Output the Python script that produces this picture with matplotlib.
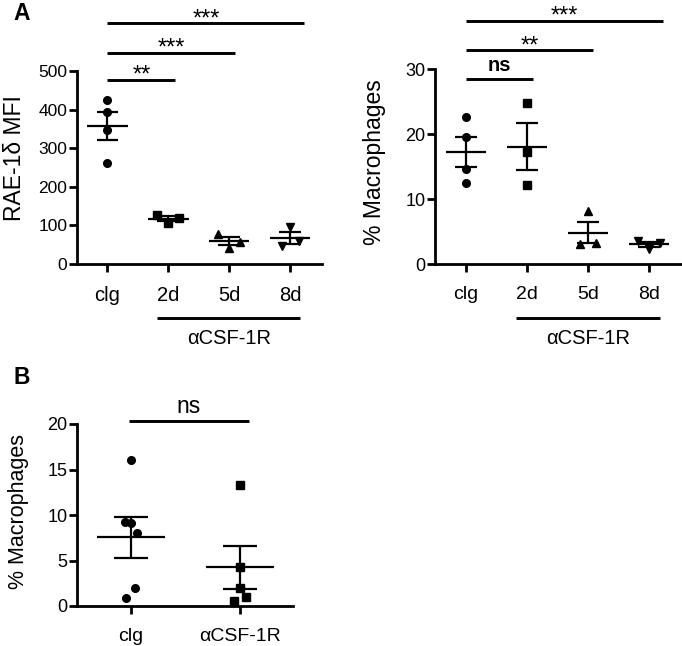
import matplotlib
matplotlib.use("Agg")
import matplotlib.pyplot as plt
import numpy as np

plt.rcParams['font.family'] = ['Liberation Sans', 'DejaVu Sans']

# panel A, left: RAE-1delta MFI
rae_groups = ["clg", "2d", "5d", "8d"]
rae_values = [
    [426, 393, 347, 261],
    [127, 107, 118],
    [77, 42, 58],
    [97, 47, 60],
]
rae_markers = ["o", "s", "^", "v"]
rae_stats = [("**", 1), ("***", 2), ("***", 3)]

# panel A, right: % macrophages
mac_groups = ["clg", "2d", "5d", "8d"]
mac_values = [
    [22.6, 19.5, 14.6, 12.4],
    [24.7, 17.3, 12.2],
    [8.1, 3.1, 3.3],
    [3.5, 2.3, 3.3],
]
mac_stats = [("ns", 1), ("**", 2), ("***", 3)]

# panel B: % macrophages
b_groups = ["clg", "\u03b1CSF-1R"]
b_values = [
    [16.0, 9.25, 9.15, 8.0, 0.85, 2.0],
    [13.3, 4.3, 0.6, 2.0, 1.0],
]
b_markers = ["o", "s"]
b_stats = [("ns", 1)]


def swarm_offsets(ax, xc, vals, gap_px, step_px):
    # group points that sit closer than gap_px vertically, spread each group sideways
    pts = ax.transData.transform([(xc, v) for v in vals])
    ypx = pts[:, 1]
    order = np.argsort(ypx, kind="stable")
    clusters = [[order[0]]]
    for a, b in zip(order[:-1], order[1:]):
        if ypx[b] - ypx[a] < gap_px:
            clusters[-1].append(b)
        else:
            clusters.append([b])
    x_px = np.full(len(vals), pts[0, 0])
    for cl in clusters:
        cl = sorted(cl)
        n = len(cl)
        step = step_px if n > 2 else step_px * 1.5
        for k, idx in enumerate(cl):
            x_px[idx] = pts[0, 0] + (k - (n - 1) / 2) * step
    inv = ax.transData.inverted()
    return [inv.transform((xp, 0))[0] for xp in x_px]


def style_axes(ax, ylim, yticks, labels, ysize, xsize):
    ax.set_ylim(*ylim)
    ax.set_yticks(yticks)
    ax.set_xticks(range(len(labels)))
    ax.set_xticklabels(labels)
    for s in ["top", "right"]:
        ax.spines[s].set_visible(False)
    for s in ["left", "bottom"]:
        ax.spines[s].set_linewidth(2)
    ax.tick_params(axis="y", width=2, length=6, pad=1, labelsize=ysize)
    ax.tick_params(axis="x", width=2, length=6, pad=10, labelsize=xsize)


def draw_groups(ax, values, markers, half, cap, gap_px, step_px, msize):
    for i, vals in enumerate(values):
        xs = swarm_offsets(ax, i, vals, gap_px, step_px)
        ax.plot(xs, vals, linestyle="none", marker=markers[i], color="black",
                markersize=msize, zorder=3, clip_on=False)
        m = np.mean(vals)
        sem = np.std(vals, ddof=1) / np.sqrt(len(vals))
        ax.hlines(m, i - half, i + half, color="black", lw=1.6, zorder=4)
        ax.vlines(i, m - sem, m + sem, color="black", lw=1.6, zorder=4)
        ax.hlines([m - sem, m + sem], i - cap, i + cap, color="black", lw=1.6, zorder=4)


def draw_brackets(ax, stats, y_levels, x0, ends, ns_size=14.5, ns_bold=False):
    for (label, j), y, x1 in zip(stats, y_levels, ends):
        ax.plot([x0, x1], [y, y], color="black", lw=2.1, clip_on=False,
                solid_capstyle="butt")
        if label == "ns":
            ax.annotate(label, xy=((x0 + x1) / 2, y), xytext=(0, 5.5),
                        textcoords="offset points", ha="center", va="baseline",
                        fontsize=ns_size, fontweight="bold" if ns_bold else "normal",
                        annotation_clip=False)
        else:
            ax.annotate(label, xy=((x0 + x1) / 2, y), xytext=(0, -1.5),
                        textcoords="offset points", ha="center", va="baseline",
                        fontsize=17, annotation_clip=False)


def draw_treatment_bar(ax, x0, x1, y_line, y_text):
    tr = ax.get_xaxis_transform()
    ax.plot([x0, x1], [y_line, y_line], color="black", lw=2.1, transform=tr,
            clip_on=False, solid_capstyle="butt")
    ax.text((x0 + x1) / 2, y_text, "\u03b1CSF-1R", transform=tr, ha="center",
            va="center", fontsize=14.5)


W, H = 682, 646
fig = plt.figure(figsize=(W / 100, H / 100), dpi=100)

# --- A left
ax1 = fig.add_axes([77 / W, 1 - 264 / H, 245 / W, 193 / H])
ax1.set_xlim(-0.5, 3.52)
style_axes(ax1, (0, 500), [0, 100, 200, 300, 400, 500], rae_groups, 12.5, 14.5)
draw_groups(ax1, rae_values, rae_markers, 0.33, 0.18, 7.5, 11, 5.5)
draw_brackets(ax1, rae_stats, [477, 547, 624], 0, [1.11, 2.1, 3.23])
draw_treatment_bar(ax1, 0.82, 3.16, -0.28, -0.385)
ax1.set_ylabel("RAE-1\u03b4 MFI", fontsize=16.5, va="center")
ax1.yaxis.set_label_coords(-0.255, 0.55)

# --- A right
ax2 = fig.add_axes([435 / W, 1 - 264 / H, 247 / W, 195 / H])
ax2.set_xlim(-0.51, 3.54)
style_axes(ax2, (0, 30), [0, 10, 20, 30], mac_groups, 13, 14)
draw_groups(ax2, mac_values, rae_markers, 0.33, 0.18, 7.5, 11, 5.5)
draw_brackets(ax2, mac_stats, [28.46, 32.9, 37.4], 0, [1.1, 2.08, 3.23],
              ns_size=14.5, ns_bold=True)
draw_treatment_bar(ax2, 0.82, 3.18, -0.277, -0.38)
ax2.set_ylabel("% Macrophages", fontsize=16.5, va="center")
ax2.yaxis.set_label_coords(-0.245, 0.525)

# --- B
ax3 = fig.add_axes([77 / W, 1 - 606 / H, 216 / W, 182 / H])
ax3.set_xlim(-0.495, 1.486)
style_axes(ax3, (0, 20), [0, 5, 10, 15, 20], b_groups, 13, 14)
draw_groups(ax3, b_values, b_markers, 0.31, 0.155, 11.5, 6, 5.5)
draw_brackets(ax3, b_stats, [20.33], -0.02, [1.08], ns_size=16.5)
ax3.set_ylabel("% Macrophages", fontsize=15.5, va="center")
ax3.yaxis.set_label_coords(-0.27, 0.52)

fig.text(22 / W, 1 - 13 / H, "A", fontsize=16.5, fontweight="bold", ha="center", va="center")
fig.text(22 / W, 1 - 377 / H, "B", fontsize=16.5, fontweight="bold", ha="center", va="center")

fig.savefig("out.png", dpi=100)
